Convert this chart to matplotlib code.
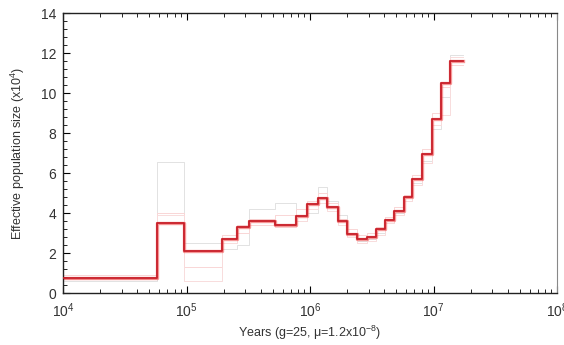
import numpy as np
import matplotlib
matplotlib.use("Agg")
import matplotlib.pyplot as plt
from matplotlib.ticker import LogLocator, MultipleLocator, NullFormatter

# PSMC step boundaries (years) as log10 values, shared by all runs
log_edges = [4.0, 4.761, 4.98, 5.285, 5.406, 5.51, 5.717, 5.887, 5.973, 6.062,
             6.14, 6.224, 6.296, 6.383, 6.459, 6.534, 6.607, 6.68, 6.764,
             6.828, 6.91, 6.985, 7.058, 7.134, 7.236]

# Effective population size (x10^4) for the full data run
ne_main = [0.77, 3.5, 2.12, 2.68, 3.28, 3.6, 3.42, 3.87, 4.43, 4.77, 4.28,
           3.6, 2.95, 2.72, 2.8, 3.18, 3.65, 4.1, 4.78, 5.68, 6.95, 8.7,
           10.48, 11.6]

# bootstrap replicates
ne_boot1 = [0.6, 6.57, 2.5, 2.2, 2.4, 4.2, 4.5, 3.6, 4.0, 5.3, 4.6, 3.9,
            3.0, 2.6, 2.7, 3.0, 3.5, 4.0, 4.6, 5.5, 6.6, 8.2, 9.8, 11.9]
ne_boot2 = [0.9, 4.0, 1.3, 2.9, 3.0, 3.4, 3.9, 4.2, 4.6, 5.0, 4.5, 3.7,
            3.2, 2.9, 3.0, 3.3, 3.8, 4.3, 4.9, 5.9, 7.2, 9.0, 10.3, 11.4]
ne_boot3 = [0.7, 3.9, 0.6, 2.5, 3.4, 3.7, 3.3, 3.6, 4.2, 4.5, 4.1, 3.4,
            2.8, 2.5, 2.6, 2.9, 3.5, 3.9, 4.6, 5.4, 6.5, 8.4, 8.9, 11.8]

plt.rcParams['font.family'] = ['Liberation Sans', 'DejaVu Sans']
plt.rcParams['mathtext.default'] = 'regular'


def step_xy(values):
    edges = 10 ** np.array(log_edges)
    vals = np.append(values, values[-1])
    return edges, vals


fig = plt.figure(figsize=(5.64, 3.45), dpi=100)
ax = fig.add_axes([0.1117, 0.1507, 0.8759, 0.8116])

boot_styles = [(ne_boot1, '#e2e2e2'), (ne_boot2, '#f9d6d6'), (ne_boot3, '#f8dcdc')]
for vals, col in boot_styles:
    x, y = step_xy(vals)
    ax.step(x, y, where='post', color=col, lw=0.7, zorder=1)

x, y = step_xy(ne_main)
ax.step(x, y, where='post', color='#f04040', lw=2.4, alpha=0.55, zorder=2)
ax.step(x, y, where='post', color='#c8202a', lw=1.3, zorder=3)

ax.set_xscale('log')
ax.set_xlim(1e4, 1e8)
ax.set_ylim(0, 14)
ax.yaxis.set_major_locator(MultipleLocator(2))
ax.yaxis.set_minor_locator(MultipleLocator(0.4))
ax.xaxis.set_major_locator(LogLocator(base=10, numticks=10))
ax.xaxis.set_minor_locator(LogLocator(base=10, subs=np.arange(2, 10), numticks=10))
ax.xaxis.set_minor_formatter(NullFormatter())

ax.tick_params(which='both', direction='in', top=True, right=False,
               labelsize=10, labelcolor='#333333')
ax.tick_params(axis='x', pad=6)
ax.tick_params(axis='y', pad=5)
ax.tick_params(which='major', length=5, width=0.8)
ax.tick_params(which='minor', length=3, width=0.6)

for side in ['left', 'bottom', 'top']:
    ax.spines[side].set_linewidth(1.0)
    ax.spines[side].set_color('#222222')
ax.spines['right'].set_color('#888888')
ax.spines['right'].set_linewidth(0.8)

ax.set_xlabel(r'Years (g=25, $\mu$=1.2x10$^{-8}$)', fontsize=9, color='#333333', labelpad=3)
ax.set_ylabel(r'Effective population size (x10$^4$)', fontsize=9, color='#333333', labelpad=10)

fig.savefig('out.png', dpi=100)
